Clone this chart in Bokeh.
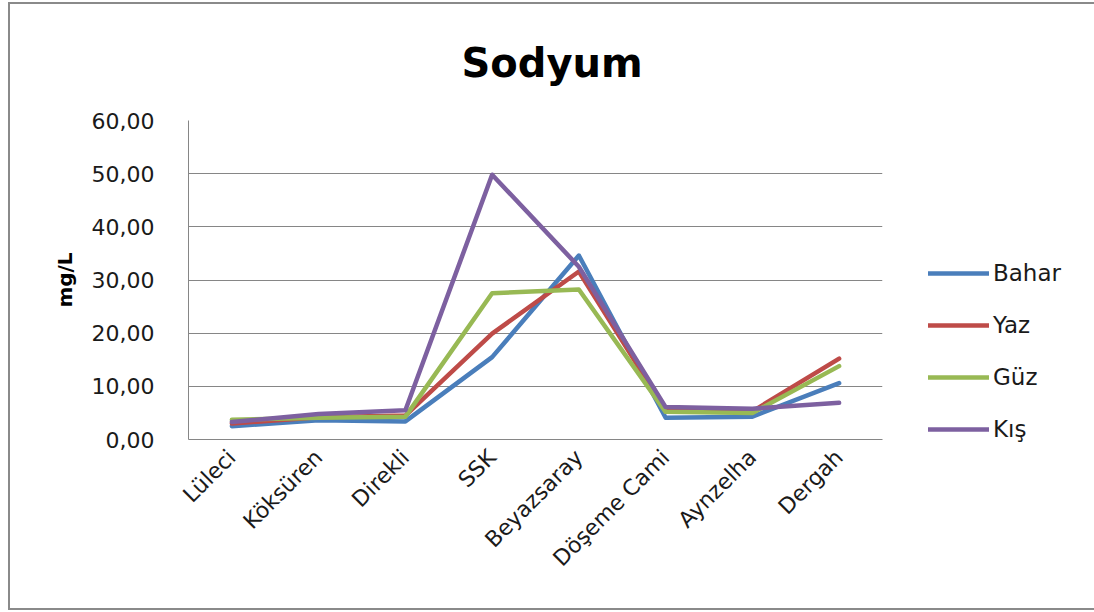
from bokeh.plotting import figure
from bokeh.models import ColumnDataSource, Legend, LegendItem, CustomJSTickFormatter, FixedTicker
from bokeh.embed import file_html
from bokeh.resources import INLINE
import math

# Sodium concentration (mg/L) per sampling station and season
stations = ["Lüleci", "Köksüren", "Direkli", "SSK", "Beyazsaray",
            "Döşeme Cami", "Aynzelha", "Dergah"]
bahar = [2.5, 3.6, 3.4, 15.5, 34.6, 4.1, 4.3, 10.6]
yaz = [3.0, 4.2, 4.5, 19.9, 31.6, 5.5, 5.3, 15.2]
guz = [3.7, 4.1, 4.3, 27.5, 28.2, 5.2, 5.0, 13.8]
kis = [3.3, 4.8, 5.5, 49.8, 32.5, 6.1, 5.8, 6.9]

series = [("Bahar", bahar, "#4A7EBB"),
          ("Yaz", yaz, "#BE4B48"),
          ("Güz", guz, "#98B954"),
          ("Kış", kis, "#7D60A0")]

y_ticks = [0, 10, 20, 30, 40, 50, 60]

FONT = "DejaVu Sans"
GRID = "#868686"

p = figure(x_range=stations, y_range=(0, 60),
           frame_width=694, frame_height=319,
           output_backend="svg", toolbar_location=None,
           min_border_left=178, min_border_right=212,
           min_border_top=116, min_border_bottom=169)
p.margin = (2, 0, 0, 8)
p.styles = {"border-style": "solid none solid solid",
            "border-width": "2px 0px 2px 2px",
            "border-color": "#8a8a8a"}

p.title.text = "Sodyum"
p.title.align = "left"
p.title.vertical_align = "middle"
p.title.text_font = FONT
p.title.text_font_size = "40px"
p.title.text_font_style = "bold"
p.title.text_color = "#000000"
p.title.offset = 273
p.title.standoff = 68

p.outline_line_color = None
p.background_fill_color = "white"
p.border_fill_color = "white"

items = []
for name, vals, color in series:
    src = ColumnDataSource(dict(x=stations, y=vals))
    r = p.line("x", "y", source=src, line_color=color, line_width=4.5,
               line_join="round", line_cap="round")
    items.append(LegendItem(label=name, renderers=[r]))

legend = Legend(items=items, location=(46, -3), orientation="vertical",
                glyph_width=61, glyph_height=20, label_height=20,
                spacing=26, label_standoff=4, padding=0, margin=0,
                label_text_font=FONT, label_text_font_size="23px",
                label_text_color="#1a1a1a", border_line_color=None,
                background_fill_alpha=0)
p.add_layout(legend, "right")

# y axis
p.yaxis.ticker = FixedTicker(ticks=y_ticks)
p.yaxis.formatter = CustomJSTickFormatter(code="return tick.toFixed(2).replace('.', ',');")
p.yaxis.major_label_text_font = FONT
p.yaxis.major_label_text_font_size = "22px"
p.yaxis.major_label_text_color = "#1a1a1a"
p.yaxis.major_tick_line_color = None
p.yaxis.minor_tick_line_color = None
p.yaxis.major_label_standoff = 28
p.yaxis.axis_line_color = GRID
p.yaxis.axis_label = "mg/L"
p.yaxis.axis_label_text_font = FONT
p.yaxis.axis_label_text_font_size = "20px"
p.yaxis.axis_label_text_font_style = "bold"
p.yaxis.axis_label_text_color = "#000000"
p.yaxis.axis_label_standoff = 12

# x axis
p.xaxis.major_label_orientation = math.pi / 4
p.xaxis.major_label_text_font = FONT
p.xaxis.major_label_text_font_size = "22px"
p.xaxis.major_label_text_color = "#1a1a1a"
p.xaxis.major_tick_line_color = None
p.xaxis.major_label_standoff = 8
p.xaxis.axis_line_color = GRID

p.xgrid.grid_line_color = None
p.ygrid.grid_line_color = GRID
p.ygrid.grid_line_width = 1
p.x_range.range_padding = 0

open("out.html", "w").write(file_html(p, INLINE))
